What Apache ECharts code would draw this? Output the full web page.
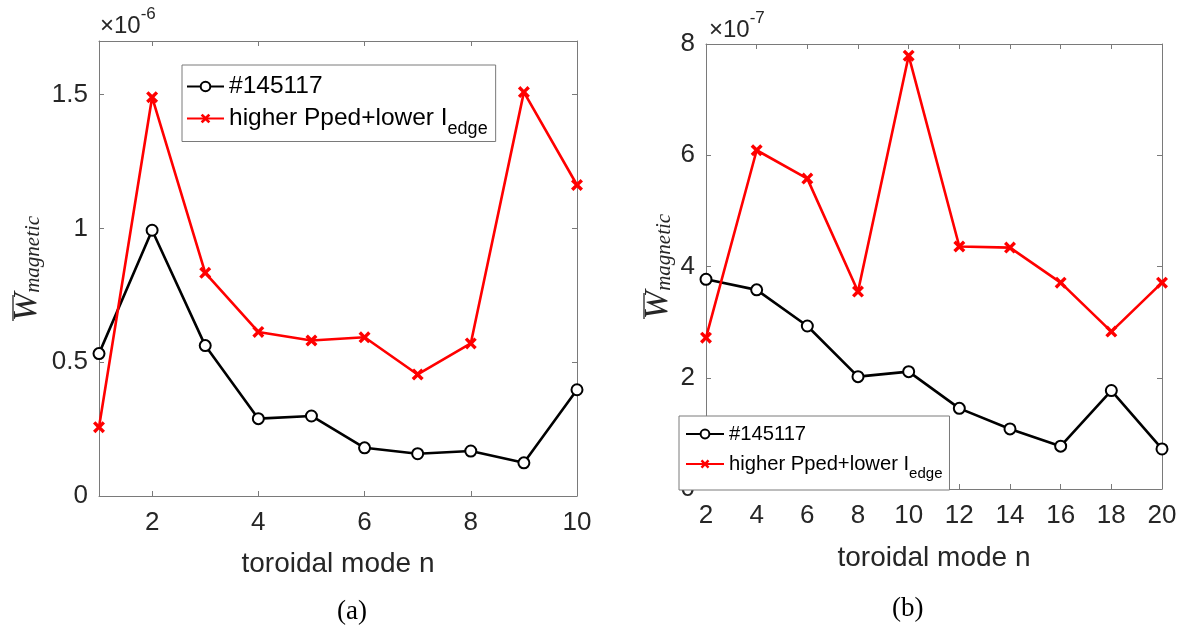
<!DOCTYPE html>
<html>
<head>
<meta charset="utf-8">
<script src="https://cdn.jsdelivr.net/npm/echarts@6/dist/echarts.min.js"></script>
<style>
html,body{margin:0;padding:0;background:#fff;}
#chart{width:1185px;height:628px;}
</style>
</head>
<body>
<div id="chart"></div>
<script>
// ---- data (values in units of the axis multiplier) ----
// Panel (a): W_magnetic x 1e-6 vs toroidal mode n
const nLeft = [1, 2, 3, 4, 5, 6, 7, 8, 9, 10];
const shotLeft = [0.532, 0.993, 0.562, 0.289, 0.299, 0.180, 0.158, 0.168, 0.124, 0.397];
const higherLeft = [0.257, 1.490, 0.834, 0.613, 0.581, 0.593, 0.454, 0.570, 1.509, 1.162];
const xTicksLeft = [2, 4, 6, 8, 10];
const yTicksLeft = [0, 0.5, 1, 1.5];

// Panel (b): W_magnetic x 1e-7 vs toroidal mode n
const nRight = [2, 4, 6, 8, 10, 12, 14, 16, 18, 20];
const shotRight = [3.77, 3.58, 2.93, 2.02, 2.11, 1.45, 1.08, 0.77, 1.77, 0.72];
const higherRight = [2.72, 6.09, 5.58, 3.55, 7.79, 4.36, 4.34, 3.71, 2.83, 3.71];
const xTicksRight = [2, 4, 6, 8, 10, 12, 14, 16, 18, 20];
const yTicksRight = [0, 2, 4, 6, 8];

const SHOT = '#145117';
const HIGHER = 'higher Pped+lower I_edge';

const AX = '#7a7a7a';
const TXT = '#262626';
const SANS = 'Liberation Sans';
const SERIF = 'Liberation Serif';
const XMARK = 'path://M0,2 L2,0 L5,3 L8,0 L10,2 L7,5 L10,8 L8,10 L5,7 L2,10 L0,8 L3,5 Z';

function tickStyle(vals) {
  return {show: true, inside: true, length: 5, customValues: vals, lineStyle: {color: AX, width: 1}};
}
function lineStyleAx() {
  return {show: true, onZero: false, lineStyle: {color: AX, width: 1}};
}
function labelStyle(vals, show, margin) {
  return {show: show, customValues: vals, fontSize: 26, color: TXT, fontFamily: SANS, margin: margin,
          formatter: v => String(v)};
}
const yNameRich = {
  w: {fontFamily: SERIF, fontStyle: 'italic', fontSize: 34, color: TXT, verticalAlign: 'middle'},
  s: {fontFamily: SERIF, fontStyle: 'italic', fontSize: 21, color: TXT, verticalAlign: 'middle', padding: [13, 0, 0, 0]}
};

function xAxes(grid, min, max, ticks, nameGap) {
  return [
    {type: 'value', gridIndex: grid, position: 'bottom', min: min, max: max,
     axisLine: lineStyleAx(), axisTick: tickStyle(ticks), axisLabel: labelStyle(ticks, true, 14),
     splitLine: {show: false},
     name: 'toroidal mode n', nameLocation: 'middle', nameGap: nameGap,
     nameTextStyle: {fontSize: 28, color: TXT, fontFamily: SANS}},
    {type: 'value', gridIndex: grid, position: 'top', min: min, max: max,
     axisLine: lineStyleAx(), axisTick: tickStyle(ticks), axisLabel: {show: false},
     splitLine: {show: false}}
  ];
}
function yAxes(grid, min, max, ticks, nameGap) {
  return [
    {type: 'value', gridIndex: grid, position: 'left', min: min, max: max,
     axisLine: lineStyleAx(), axisTick: tickStyle(ticks), axisLabel: labelStyle(ticks, true, 11),
     splitLine: {show: false},
     name: '{w|W}{s|magnetic}', nameLocation: 'middle', nameRotate: 90, nameGap: nameGap,
     nameTextStyle: {rich: yNameRich}},
    {type: 'value', gridIndex: grid, position: 'right', min: min, max: max,
     axisLine: lineStyleAx(), axisTick: tickStyle(ticks), axisLabel: {show: false},
     splitLine: {show: false}}
  ];
}

function mkSeries(name, xs, ys, xi, yi, isShot) {
  return {
    type: 'line', name: name, xAxisIndex: xi, yAxisIndex: yi,
    data: xs.map((x, i) => [x, ys[i]]),
    clip: false, animation: false,
    symbol: isShot ? 'emptyCircle' : XMARK,
    symbolSize: isShot ? 11 : 12,
    z: isShot ? 2 : 3,
    lineStyle: {color: isShot ? '#000000' : '#ff0000', width: 2.6},
    itemStyle: {color: isShot ? '#000000' : '#ff0000', borderWidth: isShot ? 2.2 : 0}
  };
}

function legendFmt(name) {
  return name === HIGHER ? '{n|higher Pped+lower I}{e|edge}' : '{n|' + name + '}';
}
function legendRich(fs, fsSub, sub) {
  return {
    n: {fontSize: fs, fontFamily: SANS, color: '#000', verticalAlign: 'middle'},
    e: {fontSize: fsSub, fontFamily: SANS, color: '#000', verticalAlign: 'middle', padding: [sub, 0, 0, 0]}
  };
}
const capRich = {
  a: {fontSize: 24, color: TXT, fontFamily: SANS, fontWeight: 'normal', verticalAlign: 'bottom', padding: [8, 0, 0, 0]},
  b: {fontSize: 17, color: TXT, fontFamily: SANS, fontWeight: 'normal', verticalAlign: 'top'}
};

const chart = echarts.init(document.getElementById('chart'), null, {renderer: 'canvas'});
const option = {
  animation: false,
  backgroundColor: '#ffffff',
  grid: [
    {left: 99, top: 41, width: 478, height: 455},
    {left: 706, top: 44, width: 456, height: 445}
  ],
  xAxis: [].concat(xAxes(0, 1, 10, xTicksLeft, 54), xAxes(1, 2, 20, xTicksRight, 55)),
  yAxis: [].concat(yAxes(0, 0, 1.7, yTicksLeft, 55), yAxes(1, 0, 8, yTicksRight, 31)),
  title: [
    {text: '{a|×10}{b|-6}', left: 100, top: 6, padding: 0,
     textStyle: {fontWeight: 'normal', rich: capRich}},
    {text: '{a|×10}{b|-7}', left: 709, top: 10, padding: 0,
     textStyle: {fontWeight: 'normal', rich: capRich}},
    {text: '(a)', left: 337, top: 598, padding: 0,
     textStyle: {fontFamily: SERIF, fontSize: 27, fontWeight: 'normal', color: '#000'}},
    {text: '(b)', left: 892, top: 595, padding: 0,
     textStyle: {fontFamily: SERIF, fontSize: 27, fontWeight: 'normal', color: '#000'}}
  ],
  graphic: [
    {type: 'line', shape: {x1: 13, y1: 295, x2: 13, y2: 321}, style: {stroke: TXT, lineWidth: 1.3}},
    {type: 'line', shape: {x1: 644, y1: 293, x2: 644, y2: 319}, style: {stroke: TXT, lineWidth: 1.3}}
  ],
  legend: [
    {orient: 'vertical', left: 182, top: 65, padding: [9, 8, 3, 4], itemGap: 7,
     itemWidth: 37, itemHeight: 12, backgroundColor: '#fff', borderColor: AX, borderWidth: 1,
     data: [SHOT, HIGHER], formatter: legendFmt,
     textStyle: {rich: legendRich(24.5, 18, 22)}},
    {orient: 'vertical', left: 679, top: 416, padding: [8, 7, 9, 6], itemGap: 10,
     itemWidth: 38, itemHeight: 11, backgroundColor: '#fff', borderColor: AX, borderWidth: 1, z: 10,
     data: [SHOT, HIGHER], formatter: legendFmt,
     textStyle: {rich: legendRich(20.2, 15, 19)}}
  ],
  series: [
    mkSeries(SHOT, nLeft, shotLeft, 0, 0, true),
    mkSeries(HIGHER, nLeft, higherLeft, 0, 0, false),
    mkSeries(SHOT, nRight, shotRight, 2, 2, true),
    mkSeries(HIGHER, nRight, higherRight, 2, 2, false)
  ]
};
chart.setOption(option);
</script>
</body>
</html>
